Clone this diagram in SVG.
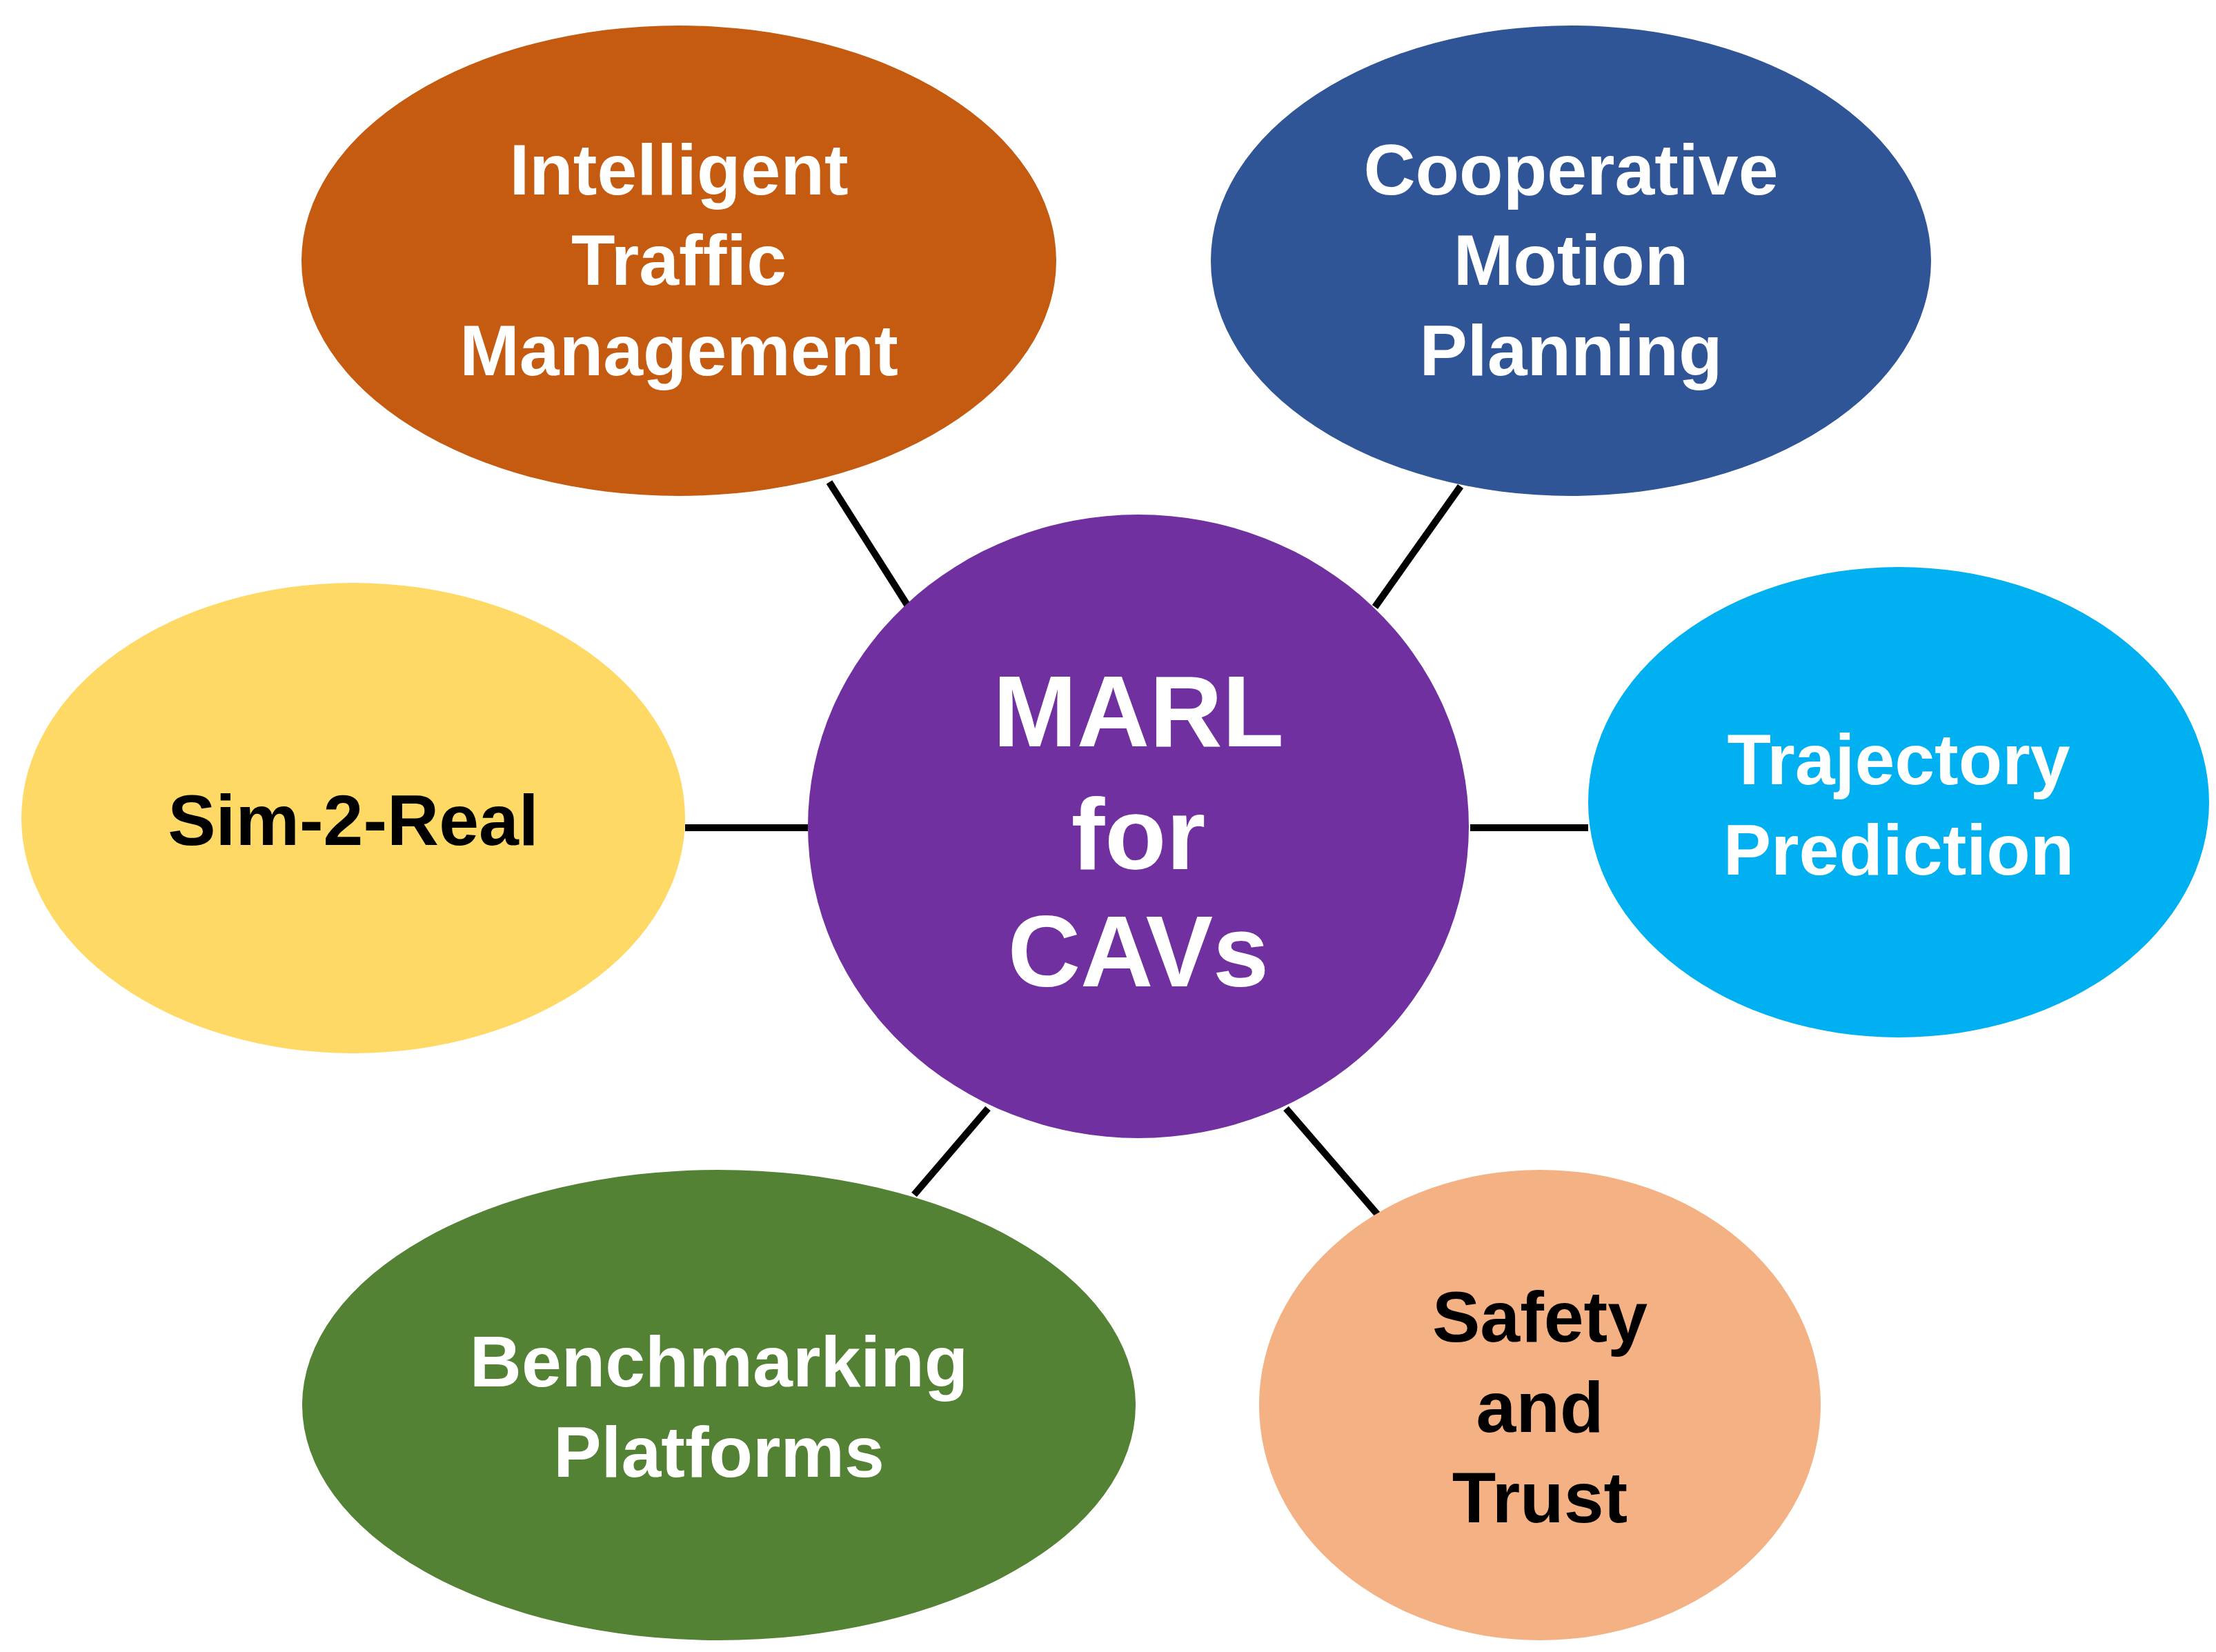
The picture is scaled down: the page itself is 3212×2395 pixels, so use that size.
<svg xmlns="http://www.w3.org/2000/svg" width="3212" height="2395" viewBox="0 0 3212 2395">
<style>
.t{font-family:"Liberation Sans",Arial,sans-serif;font-weight:bold;font-size:104px;text-anchor:middle}
.w{fill:#ffffff}.k{fill:#000000}
.c line{stroke:#000;stroke-width:10}
</style>
<rect width="3212" height="2395" fill="#fff"/>
<g class="c" id="connectors">
<line x1="1202" y1="699" x2="1315" y2="877"/>
<line x1="2117" y1="705" x2="1993" y2="880"/>
<line x1="993" y1="1200" x2="1171" y2="1200"/>
<line x1="2131" y1="1200" x2="2302" y2="1200"/>
<line x1="1432" y1="1607" x2="1325" y2="1732"/>
<line x1="1864" y1="1607" x2="1997" y2="1761"/>
</g>
<g id="itm"><ellipse cx="984" cy="378" rx="547" ry="341" fill="#C55A11"/>
<text class="t w" x="984" y="282">Intelligent</text><text class="t w" x="984" y="413">Traffic</text><text class="t w" x="984" y="544">Management</text></g>
<g id="cmp"><ellipse cx="2277" cy="378" rx="522" ry="341" fill="#2F5597"/>
<text class="t w" x="2277" y="282">Cooperative</text><text class="t w" x="2277" y="413">Motion</text><text class="t w" x="2277" y="544">Planning</text></g>
<g id="s2r"><ellipse cx="512" cy="1186" rx="481" ry="341" fill="#FFD966"/>
<text class="t k" x="512" y="1225">Sim-2-Real</text></g>
<g id="tp"><ellipse cx="2752" cy="1163" rx="450" ry="341" fill="#00B0F0"/>
<text class="t w" x="2752" y="1137">Trajectory</text><text class="t w" x="2752" y="1268">Prediction</text></g>
<g id="bp"><ellipse cx="1042" cy="2037" rx="604" ry="341" fill="#548235"/>
<text class="t w" x="1042" y="2010">Benchmarking</text><text class="t w" x="1042" y="2141">Platforms</text></g>
<g id="st"><ellipse cx="2232" cy="2037" rx="407" ry="341" fill="#F4B183"/>
<text class="t k" x="2232" y="1945">Safety</text><text class="t k" x="2232" y="2076">and</text><text class="t k" x="2232" y="2207">Trust</text></g>
<g id="marl"><ellipse cx="1650" cy="1198" rx="479" ry="452" fill="#7030A0"/>
<text class="t w" style="font-size:146px" x="1650" y="1082">MARL</text><text class="t w" style="font-size:146px" x="1650" y="1260">for</text><text class="t w" style="font-size:146px" x="1650" y="1430">CAVs</text></g>
</svg>
